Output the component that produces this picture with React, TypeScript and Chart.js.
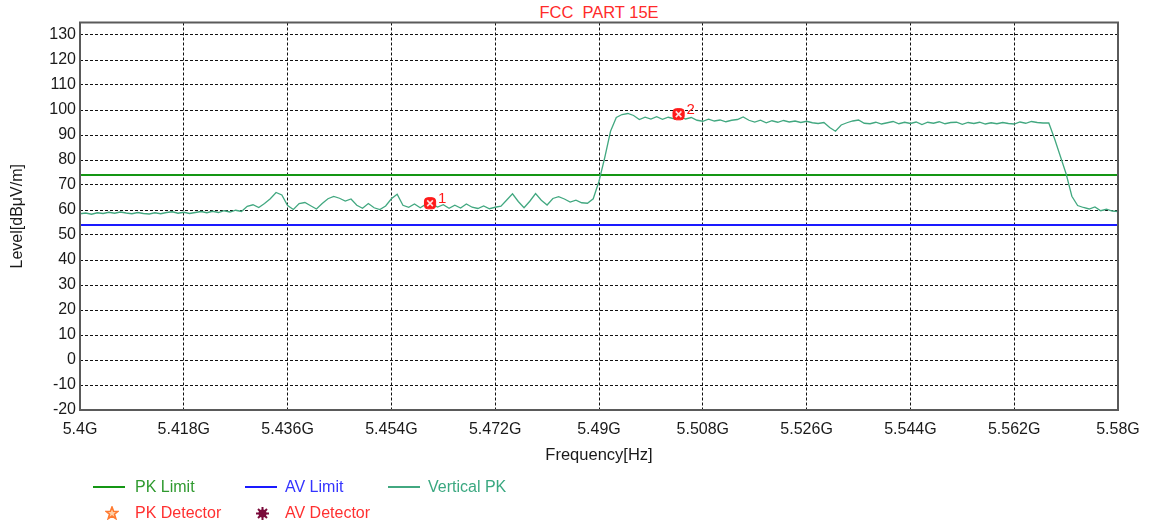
import React, { useEffect, useRef } from "react";
import { Chart, registerables } from "chart.js";

Chart.register(...registerables);

// ---------- data ----------
const titleText = "FCC  PART 15E";
const yAxisTitle = "Level[dBμV/m]";
const xAxisTitle = "Frequency[Hz]";

const xTickValues = [5400, 5418, 5436, 5454, 5472, 5490, 5508, 5526, 5544, 5562, 5580];
const xTickLabels = ["5.4G", "5.418G", "5.436G", "5.454G", "5.472G", "5.49G", "5.508G", "5.526G", "5.544G", "5.562G", "5.58G"];
const yTickValues = [-20, -10, 0, 10, 20, 30, 40, 50, 60, 70, 80, 90, 100, 110, 120, 130];

const pkLimitLevel = 74;
const avLimitLevel = 54;

const traceStartMHz = 5400;
const traceStepMHz = 1;
const verticalPK = [
  58.5, 58.8, 58.3, 58.9, 58.6, 59.1, 58.7, 59.2, 58.8, 58.5,
  59.0, 58.6, 58.4, 58.9, 58.5, 59.0, 59.3, 58.7, 59.1, 58.6,
  59.0, 59.4, 58.9, 59.5, 59.0, 59.7, 59.2, 59.9, 59.4, 61.5,
  62.1, 61.0, 62.6, 64.5, 67.0, 66.0, 61.8, 60.2, 62.6, 63.0,
  61.7, 60.4, 62.6, 64.5, 65.4, 64.7, 63.6, 64.4, 61.9, 60.7,
  62.6, 60.9, 60.2, 61.6, 64.5, 66.3, 61.9, 61.1, 62.4, 60.9,
  62.3, 62.4, 61.2, 62.1, 60.7, 61.9, 60.8, 62.4, 61.1, 60.6,
  61.6, 60.5, 61.1, 61.5, 64.0, 66.5, 63.4, 60.9, 63.5, 66.6,
  63.9, 62.0, 64.6, 65.3, 64.4, 63.2, 63.9, 62.9, 62.7, 64.5,
  71.5, 81.0, 91.5, 97.0, 98.2, 98.6, 97.8, 96.2, 97.1, 96.4,
  97.3, 96.3, 97.1, 96.5, 97.5, 96.4, 97.0, 95.9, 95.5, 96.3,
  95.6, 96.0, 95.3, 95.9, 96.2, 97.2, 95.9, 95.2, 95.9, 94.9,
  95.7, 95.1, 95.8, 95.2, 95.6, 95.0, 95.5, 94.9, 94.6, 95.0,
  93.0, 91.5, 94.0, 94.9, 95.6, 96.0, 94.7, 94.5, 95.1, 94.4,
  94.9, 95.4, 94.5, 95.1, 94.6, 95.2, 94.2, 95.1, 94.7, 95.3,
  94.5, 95.0, 95.1, 94.3, 95.0, 94.6, 95.1, 94.4, 94.9, 94.5,
  95.0, 94.6, 94.4, 95.2, 94.7, 95.4, 95.0, 94.8, 94.8, 88.5,
  81.5, 74.5, 65.5, 61.8, 61.0, 60.4, 61.2, 59.7, 60.3, 59.6,
  59.4,
];

const markerFreqs = [5460.7, 5503.8];
const markerLevels = [62.7, 98.3];
const markerLabels = ["1", "2"];

// ---------- styles ----------
const FONT = "Arial, 'Liberation Sans', sans-serif";
const PK_LIMIT_COLOR = "#149614";
const AV_LIMIT_COLOR = "#1a1aff";
const TRACE_COLOR = "#42a880";
const MARKER_COLOR = "#ff1a1a";

const markerLabelPlugin = {
  id: "markerLabels",
  afterDatasetsDraw(chart: any) {
    const ctx = chart.ctx;
    const meta = chart.getDatasetMeta(1);
    ctx.save();
    ctx.fillStyle = MARKER_COLOR;
    ctx.font = `15px ${FONT}`;
    ctx.textAlign = "left";
    ctx.textBaseline = "middle";
    meta.data.forEach((pt: any, i: number) => {
      ctx.fillText(markerLabels[i], pt.x + 8, pt.y - 4);
    });
    ctx.restore();
  },
  afterDraw(chart: any) {
    const { ctx, chartArea } = chart;
    ctx.save();
    ctx.strokeStyle = "#5a5a5a";
    ctx.lineWidth = 2;
    ctx.strokeRect(chartArea.left, chartArea.top, chartArea.right - chartArea.left, chartArea.bottom - chartArea.top);
    ctx.restore();
  },
};

function LegendRow() {
  const text = (left: number, top: number, color: string, s: string) => (
    <div
      style={{
        position: "absolute",
        left,
        top,
        transform: "translateY(-50%)",
        color,
        font: `16px ${FONT}`,
        whiteSpace: "nowrap",
      }}
    >
      {s}
    </div>
  );
  const line = (left: number, top: number, color: string) => (
    <div style={{ position: "absolute", left, top: top - 1, width: 32, height: 2, background: color }} />
  );
  return (
    <>
      {line(93, 487, PK_LIMIT_COLOR)}
      {text(135, 487, "#2f9a2f", "PK Limit")}
      {line(245, 487, AV_LIMIT_COLOR)}
      {text(285, 487, "#3434ff", "AV Limit")}
      {line(388, 487, TRACE_COLOR)}
      {text(428, 487, "#3aa880", "Vertical PK")}
      <svg style={{ position: "absolute", left: 105, top: 506 }} width="14" height="14" viewBox="0 0 14 14">
        <polygon
          points="7,1 8.6,5.2 13,5.4 9.5,8.2 10.8,12.6 7,10 3.2,12.6 4.5,8.2 1,5.4 5.4,5.2"
          fill="#ffd0a8"
          stroke="#ff7a30"
          strokeWidth="1.6"
        />
      </svg>
      {text(135, 513, "#ff3030", "PK Detector")}
      <svg style={{ position: "absolute", left: 255, top: 506 }} width="15" height="15" viewBox="0 0 15 15">
        <g stroke="#7a0a3a" strokeWidth="2">
          <line x1="7.5" y1="1" x2="7.5" y2="14" />
          <line x1="1" y1="7.5" x2="14" y2="7.5" />
          <line x1="3" y1="3" x2="12" y2="12" />
          <line x1="12" y1="3" x2="3" y2="12" />
        </g>
        <circle cx="7.5" cy="7.5" r="4" fill="#7a0a3a" />
      </svg>
      {text(285, 513, "#ff3030", "AV Detector")}
    </>
  );
}

export default function App() {
  const canvasRef = useRef<HTMLCanvasElement | null>(null);

  useEffect(() => {
    if (!canvasRef.current) return;
    const tracePoints = verticalPK.map((v, i) => ({ x: traceStartMHz + i * traceStepMHz, y: v }));
    const xMin = xTickValues[0];
    const xMax = xTickValues[xTickValues.length - 1];
    const markerPoints = markerFreqs.map((f, i) => ({ x: f, y: markerLevels[i] }));

    const chart = new Chart(canvasRef.current, {
      type: "line",
      data: {
        datasets: [
          {
            label: "Markers X",
            data: markerPoints,
            showLine: false,
            pointStyle: "crossRot",
            pointRadius: 4,
            borderColor: "#ffe0e0",
            pointBorderWidth: 1.6,
          } as any,
          {
            label: "Markers",
            data: markerPoints,
            showLine: false,
            pointStyle: "rectRounded",
            pointRadius: 6.5,
            backgroundColor: MARKER_COLOR,
            borderColor: MARKER_COLOR,
            pointBorderWidth: 1,
          } as any,
          {
            label: "Vertical PK",
            data: tracePoints,
            borderColor: TRACE_COLOR,
            borderWidth: 1.3,
            pointRadius: 0,
            tension: 0,
          },
          {
            label: "PK Limit",
            data: [
              { x: xMin, y: pkLimitLevel },
              { x: xMax, y: pkLimitLevel },
            ],
            borderColor: PK_LIMIT_COLOR,
            borderWidth: 2,
            pointRadius: 0,
          },
          {
            label: "AV Limit",
            data: [
              { x: xMin, y: avLimitLevel },
              { x: xMax, y: avLimitLevel },
            ],
            borderColor: AV_LIMIT_COLOR,
            borderWidth: 2,
            pointRadius: 0,
          },
        ],
      },
      options: {
        animation: false,
        responsive: false,
        maintainAspectRatio: false,
        devicePixelRatio: 1,
        layout: { padding: { left: 0, right: 35, top: 22.5, bottom: 58 } },
        plugins: {
          legend: { display: false },
          tooltip: { enabled: false },
          title: { display: false },
        },
        scales: {
          x: {
            type: "linear",
            min: xMin,
            max: xMax,
            afterBuildTicks: (scale: any) => {
              scale.ticks = xTickValues.map((v) => ({ value: v }));
            },
            afterFit: (scale: any) => {
              scale.height = 58;
            },
            ticks: {
              padding: 10,
              maxRotation: 0,
              autoSkip: false,
              color: "#1a1a1a",
              font: { family: FONT, size: 16 },
              callback: (_v: any, i: number) => xTickLabels[i],
            },
            grid: { color: "#111", lineWidth: 1, drawTicks: false },
            border: { display: false, dash: [3, 2] },
            title: {
              display: true,
              text: xAxisTitle,
              color: "#1a1a1a",
              font: { family: FONT, size: 16.5 },
              padding: { top: 0, bottom: 3 },
            },
          },
          y: {
            type: "linear",
            min: -20,
            max: 135,
            afterBuildTicks: (scale: any) => {
              scale.ticks = yTickValues.map((v) => ({ value: v }));
            },
            afterFit: (scale: any) => {
              scale.width = 80;
            },
            ticks: {
              padding: 4,
              autoSkip: false,
              color: "#1a1a1a",
              font: { family: FONT, size: 16 },
            },
            grid: { color: "#111", lineWidth: 1, drawTicks: false },
            border: { display: false, dash: [3, 2] },
            title: {
              display: true,
              text: yAxisTitle,
              color: "#1a1a1a",
              font: { family: FONT, size: 16 },
              padding: { top: 8, bottom: 0 },
            },
          },
        },
      },
      plugins: [markerLabelPlugin],
    });
    return () => chart.destroy();
  }, []);

  return (
    <div style={{ position: "absolute", left: 0, top: 0, width: 1153, height: 526, background: "#fff" }}>
      <div
        style={{
          position: "absolute",
          left: 599,
          top: 12,
          transform: "translate(-50%, -50%)",
          color: "#ff2a2a",
          font: `16.5px ${FONT}`,
          whiteSpace: "pre",
        }}
      >
        {titleText}
      </div>
      <canvas ref={canvasRef} width={1153} height={526} style={{ position: "absolute", left: 0, top: 0 }} />
      <LegendRow />
    </div>
  );
}
